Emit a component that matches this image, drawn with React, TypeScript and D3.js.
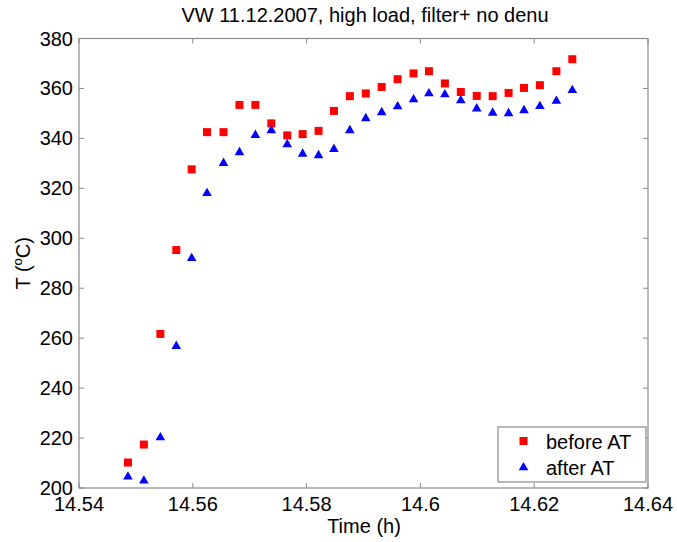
import React from "react";
import * as d3 from "d3";

const times = [
  14.5486, 14.5514, 14.5543, 14.5571, 14.5598, 14.5625, 14.5654, 14.5682, 14.571, 14.5738,
  14.5766, 14.5793, 14.5821, 14.5848, 14.5876, 14.5904, 14.5932, 14.596, 14.5988, 14.6015,
  14.6043, 14.6071, 14.6099, 14.6127, 14.6155, 14.6182, 14.621, 14.6239, 14.6267,
];
const beforeAT = [
  210.2, 217.4, 261.7, 295.3, 327.6, 342.5, 342.5, 353.4, 353.4, 346.0,
  341.2, 341.7, 343.0, 351.0, 356.9, 358.0, 360.6, 363.7, 366.0, 366.9,
  362.0, 358.6, 357.0, 356.9, 358.2, 360.2, 361.3, 366.9, 371.7,
];
const afterAT = [
  204.9, 203.3, 220.6, 257.2, 292.4, 318.4, 330.5, 334.8, 341.7, 343.6,
  338.0, 334.2, 333.6, 336.1, 343.6, 348.4, 350.8, 353.2, 356.0, 358.4,
  358.0, 355.6, 352.3, 350.6, 350.4, 351.6, 353.3, 355.4, 359.7,
];
const xTicks = [14.54, 14.56, 14.58, 14.6, 14.62, 14.64];
const xTickLabels = ["14.54", "14.56", "14.58", "14.6", "14.62", "14.64"];
const yTicks = [200, 220, 240, 260, 280, 300, 320, 340, 360, 380];

const W = 677, H = 542;
const L = 79, R = 648, T = 38.5, B = 488;
const font = "'Liberation Sans', Arial, Helvetica, sans-serif";
const FS = 20;

export default function App() {
  const x = d3.scaleLinear().domain([14.54, 14.64]).range([L, R]);
  const y = d3.scaleLinear().domain([200, 380]).range([B, T]);
  const tri = d3.symbol().type(d3.symbolTriangle).size(40);
  const axisColor = "#8a8a8a";
  const tl = 5;
  return (
    <svg width={W} height={H} style={{ position: "absolute", left: 0, top: 0, background: "#fff" }} fontFamily={font}>
      <rect x={0} y={0} width={W} height={H} fill="#fff" />
      <text x={365} y={22} textAnchor="middle" fontSize={FS} fill="#000">
        VW 11.12.2007, high load, filter+ no denu
      </text>
      <rect x={L} y={T} width={R - L} height={B - T} fill="#fff" stroke={axisColor} strokeWidth={1.2} />
      {xTicks.map((t, i) => (
        <g key={"x" + i}>
          <line x1={x(t)} x2={x(t)} y1={B} y2={B - tl} stroke={axisColor} />
          <line x1={x(t)} x2={x(t)} y1={T} y2={T + tl} stroke={axisColor} />
          <text x={x(t)} y={511} textAnchor="middle" fontSize={FS} fill="#000">{xTickLabels[i]}</text>
        </g>
      ))}
      {yTicks.map((t, i) => (
        <g key={"y" + i}>
          <line x1={L} x2={L + tl} y1={y(t)} y2={y(t)} stroke={axisColor} />
          <line x1={R} x2={R - tl} y1={y(t)} y2={y(t)} stroke={axisColor} />
          <text x={73} y={y(t) + 7} textAnchor="end" fontSize={FS} fill="#000">{t}</text>
        </g>
      ))}
      <text x={364} y={533} textAnchor="middle" fontSize={FS} fill="#000">Time (h)</text>
      <text transform={`translate(30, ${(T + B) / 2}) rotate(-90)`} textAnchor="middle" fontSize={FS} fill="#000">
        T (<tspan fontSize={13} dy={-8}>o</tspan><tspan dy={8}>C)</tspan>
      </text>
      {times.map((t, i) => (
        <rect key={"r" + i} x={x(t) - 4} y={y(beforeAT[i]) - 4} width={8} height={8} fill="#ff0000" />
      ))}
      {times.map((t, i) => (
        <path key={"b" + i} d={tri() || ""} transform={`translate(${x(t)}, ${y(afterAT[i]) + 1})`} fill="#0000ff" />
      ))}
      <rect x={498} y={427} width={148} height={55} fill="#fff" stroke={axisColor} strokeWidth={1.2} />
      <rect x={519.5} y={437} width={8} height={8} fill="#ff0000" />
      <path d={tri() || ""} transform={`translate(523.5, 467.5)`} fill="#0000ff" />
      <text x={546} y={449} fontSize={FS} fill="#000">before AT</text>
      <text x={546} y={475} fontSize={FS} fill="#000">after AT</text>
    </svg>
  );
}
